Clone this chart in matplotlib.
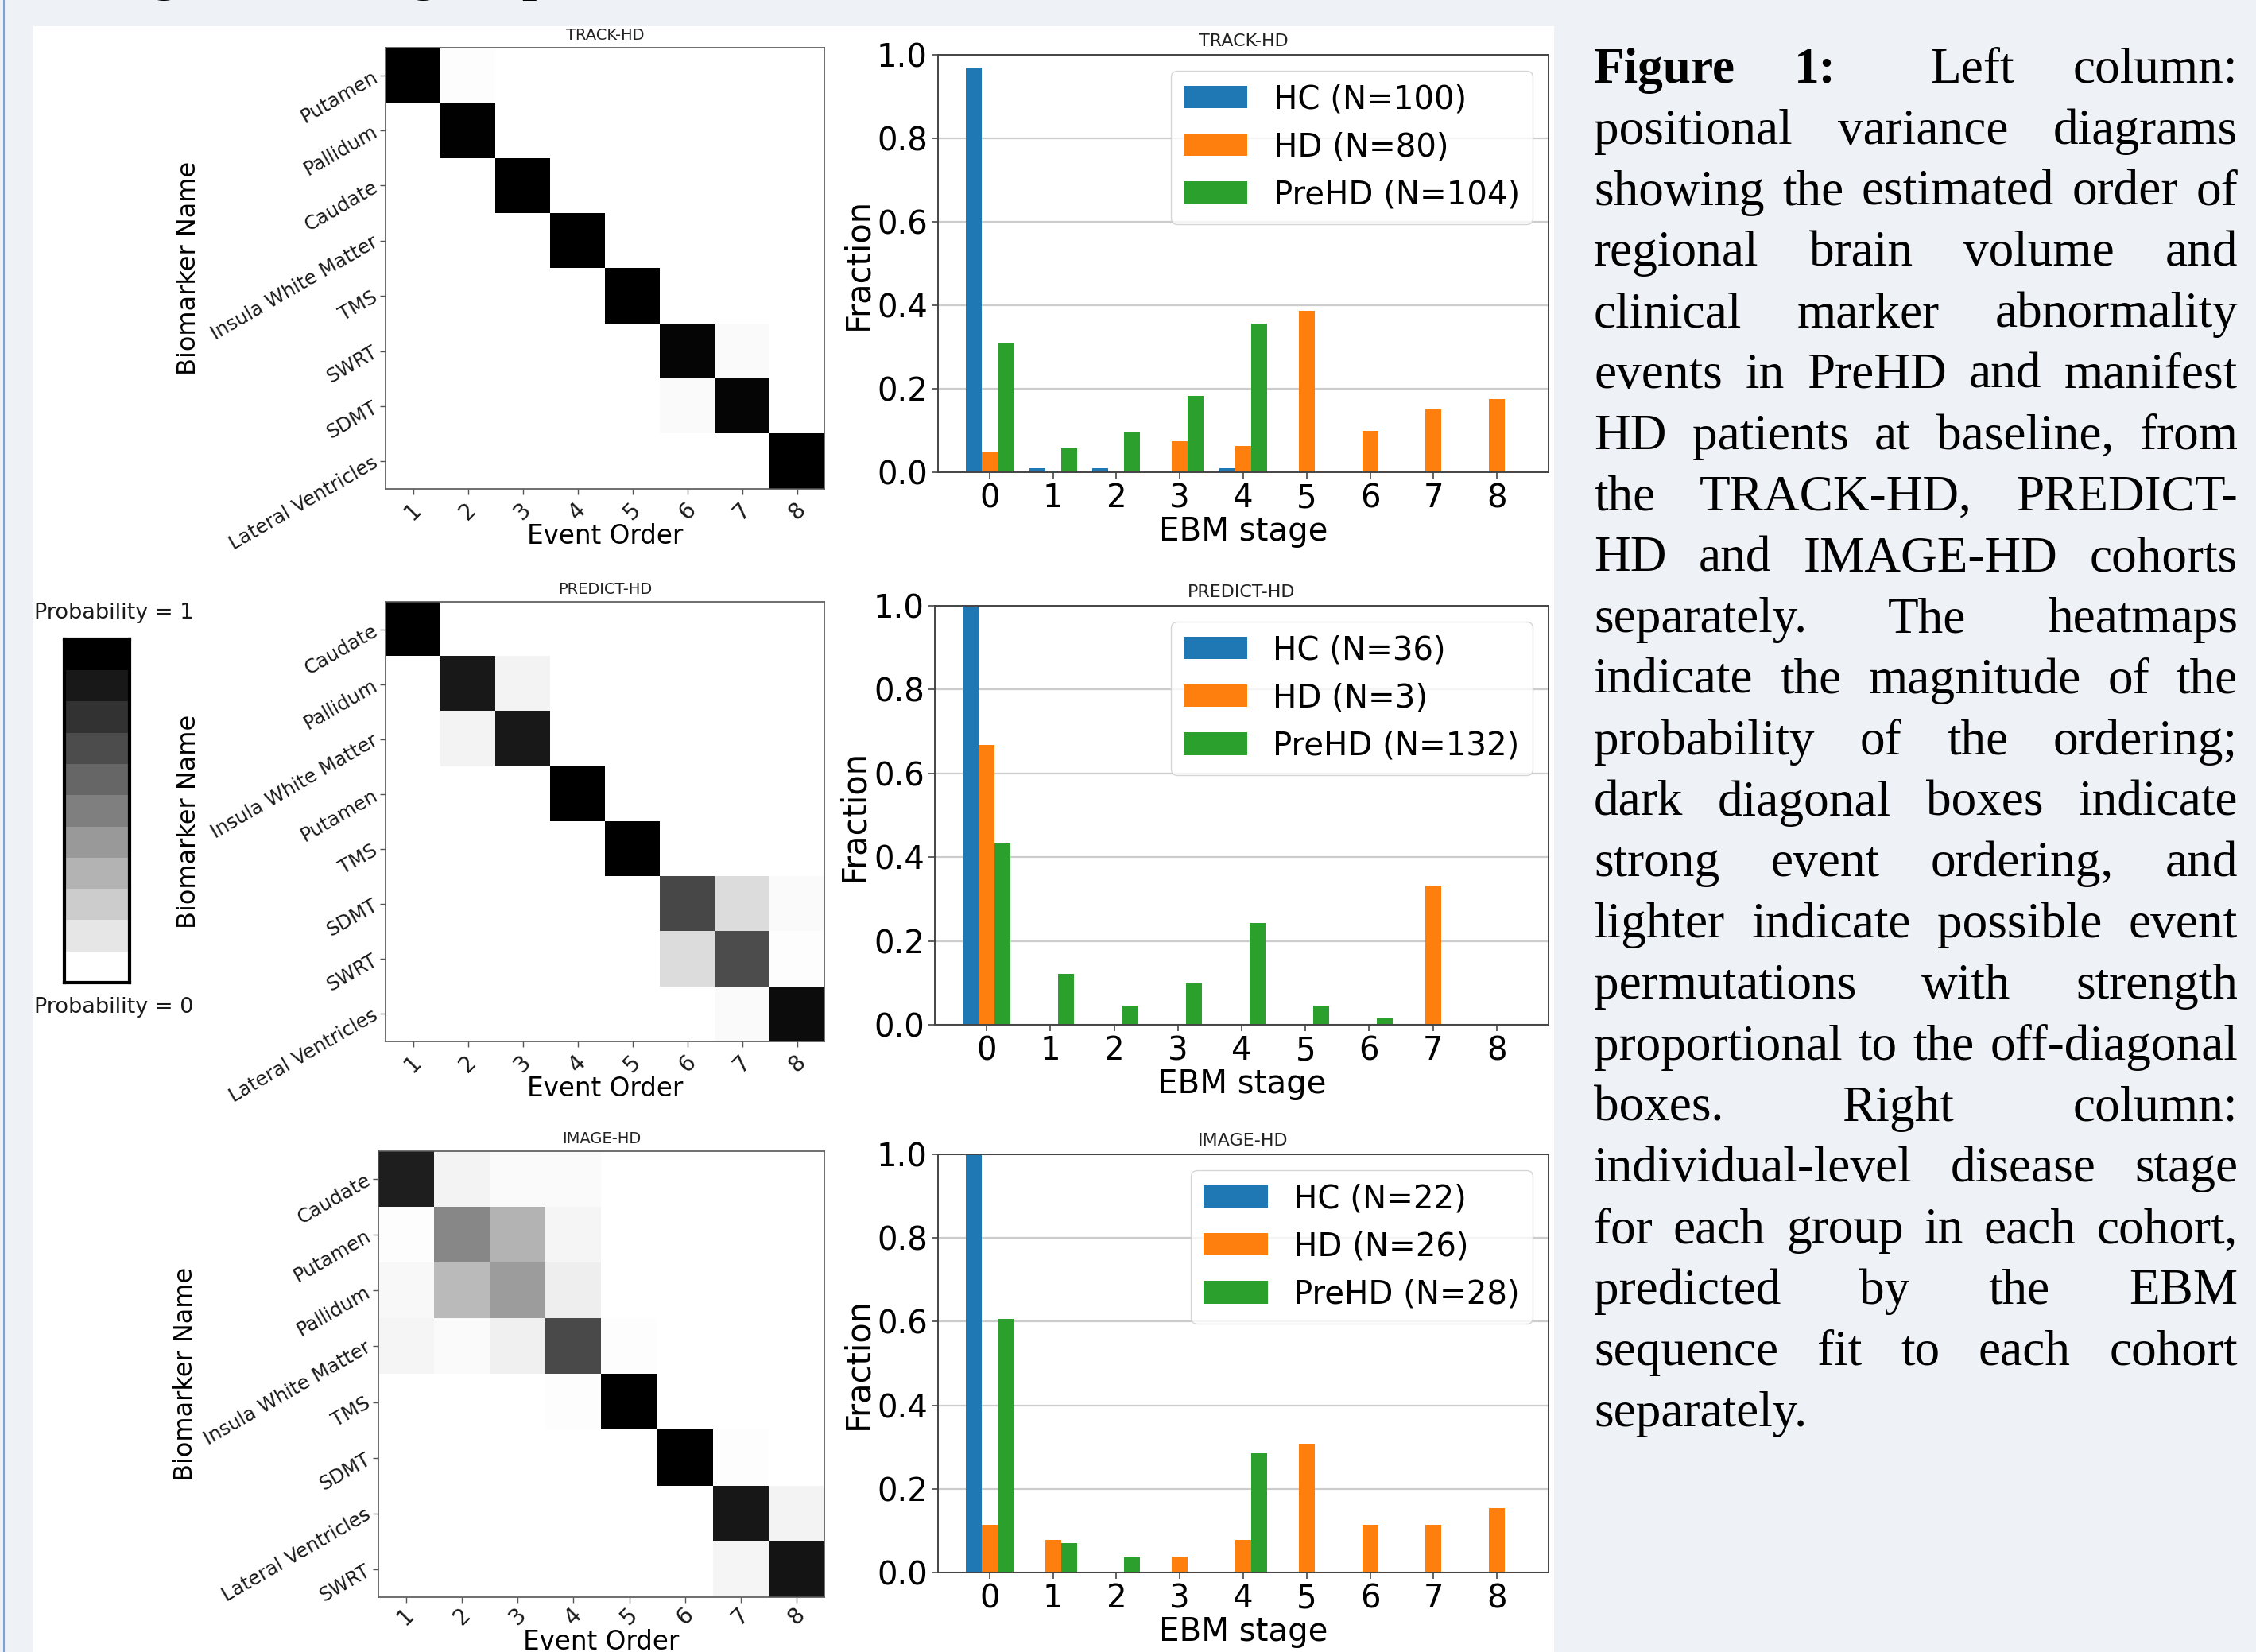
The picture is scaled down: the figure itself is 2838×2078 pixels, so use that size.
import numpy as np
import matplotlib
matplotlib.use('Agg')
import matplotlib.pyplot as plt
from matplotlib.patches import Rectangle
from matplotlib.lines import Line2D

W, H = 2838, 2078

# ---- data ----
cohorts = ['TRACK-HD', 'PREDICT-HD', 'IMAGE-HD']

track_markers = ['Putamen', 'Pallidum', 'Caudate', 'Insula White Matter',
                 'TMS', 'SWRT', 'SDMT', 'Lateral Ventricles']
predict_markers = ['Caudate', 'Pallidum', 'Insula White Matter', 'Putamen',
                   'TMS', 'SDMT', 'SWRT', 'Lateral Ventricles']
image_markers = ['Caudate', 'Putamen', 'Pallidum', 'Insula White Matter',
                 'TMS', 'SDMT', 'Lateral Ventricles', 'SWRT']

event_order = ['1', '2', '3', '4', '5', '6', '7', '8']

track_pv = [[1.00, 0.01, 0, 0, 0, 0, 0, 0],
            [0, 0.99, 0, 0, 0, 0, 0, 0],
            [0, 0, 1.00, 0, 0, 0, 0, 0],
            [0, 0, 0, 1.00, 0, 0, 0, 0],
            [0, 0, 0, 0, 1.00, 0, 0, 0],
            [0, 0, 0, 0, 0, 0.98, 0.02, 0],
            [0, 0, 0, 0, 0, 0.02, 0.98, 0],
            [0, 0, 0, 0, 0, 0, 0, 1.00]]

predict_pv = [[1.00, 0, 0, 0, 0, 0, 0, 0],
              [0, 0.90, 0.05, 0, 0, 0, 0, 0],
              [0, 0.05, 0.90, 0, 0, 0, 0, 0],
              [0, 0, 0, 1.00, 0, 0, 0, 0],
              [0, 0, 0, 0, 1.00, 0, 0, 0],
              [0, 0, 0, 0, 0, 0.72, 0.14, 0.02],
              [0, 0, 0, 0, 0, 0.14, 0.70, 0.01],
              [0, 0, 0, 0, 0, 0, 0.02, 0.95]]

image_pv = [[0.88, 0.05, 0.02, 0.02, 0, 0, 0, 0],
            [0.01, 0.47, 0.30, 0.04, 0, 0, 0, 0],
            [0.03, 0.27, 0.39, 0.07, 0, 0, 0, 0],
            [0.04, 0.02, 0.06, 0.71, 0.01, 0, 0, 0],
            [0, 0, 0, 0.01, 1.00, 0, 0, 0],
            [0, 0, 0, 0, 0, 1.00, 0.01, 0],
            [0, 0, 0, 0, 0, 0, 0.91, 0.05],
            [0, 0, 0, 0, 0, 0, 0.04, 0.92]]

stages = [0, 1, 2, 3, 4, 5, 6, 7, 8]

track_hc = [0.97, 0.01, 0.01, 0, 0.01, 0, 0, 0, 0]
track_hd = [0.05, 0, 0, 0.075, 0.0625, 0.3875, 0.10, 0.15, 0.175]
track_prehd = [0.308, 0.058, 0.096, 0.183, 0.356, 0, 0, 0, 0]

predict_hc = [1.0, 0, 0, 0, 0, 0, 0, 0, 0]
predict_hd = [0.667, 0, 0, 0, 0, 0, 0, 0.333, 0]
predict_prehd = [0.432, 0.121, 0.045, 0.098, 0.242, 0.045, 0.015, 0, 0]

image_hc = [1.0, 0, 0, 0, 0, 0, 0, 0, 0]
image_hd = [0.115, 0.077, 0, 0.038, 0.077, 0.308, 0.115, 0.115, 0.154]
image_prehd = [0.607, 0.071, 0.036, 0, 0.286, 0, 0, 0, 0]

track_n = [100, 80, 104]
predict_n = [36, 3, 132]
image_n = [22, 26, 28]

prob_levels = [1.0, 0.9, 0.8, 0.7, 0.6, 0.5, 0.4, 0.3, 0.2, 0.1, 0.0]

title_text = 'Using EBM to group HD cohorts'

caption_lines = [
    'Figure 1:  Left column:',
    'positional variance diagrams',
    'showing the estimated order of',
    'regional brain volume and',
    'clinical marker abnormality',
    'events in PreHD and manifest',
    'HD patients at baseline, from',
    'the TRACK-HD, PREDICT-',
    'HD and IMAGE-HD cohorts',
    'separately. The heatmaps',
    'indicate the magnitude of the',
    'probability of the ordering;',
    'dark diagonal boxes indicate',
    'strong event ordering, and',
    'lighter indicate possible event',
    'permutations with strength',
    'proportional to the off-diagonal',
    'boxes. Right column:',
    'individual-level disease stage',
    'for each group in each cohort,',
    'predicted by the EBM',
    'sequence fit to each cohort',
    'separately.',
]

# ---- layout helpers (pixel boxes -> figure fractions) ----
def box(left, top, right, bottom):
    return [left / W, 1 - bottom / H, (right - left) / W, (bottom - top) / H]


bg = '#eef1f6'
fig = plt.figure(figsize=(W / 100, H / 100), dpi=100, facecolor=bg)

fig.patches.append(Rectangle((42 / W, 0), (1955 - 42) / W, (H - 33) / H,
                             transform=fig.transFigure, fc='white', ec='none',
                             zorder=-5))
fig.lines.append(Line2D([5 / W, 5 / W], [0, 1], transform=fig.transFigure,
                        color='#7f9fd8', lw=1.5, zorder=-4))

# heading above the panel, mostly cut off by the top edge
fig.text(41 / W, 1 + 16 / H, title_text, fontsize=56,
         family='Liberation Serif', va='baseline', ha='left')


def pv_plot(ax, matrix, markers, title, label_x, label_y=-0.078, xpad=3.5):
    ax.imshow(np.array(matrix), cmap='gray_r', vmin=0, vmax=1,
              aspect='auto', interpolation='nearest')
    ax.set_xticks(range(len(event_order)))
    ax.set_xticklabels(event_order, rotation=45, fontsize=20, color='#1a1a1a')
    ax.set_yticks(range(len(markers)))
    ax.set_yticklabels(markers, rotation=30, ha='right', va='center',
                       rotation_mode='anchor', fontsize=17.5, color='#1a1a1a')
    ax.set_title(title, fontsize=14, pad=7, color='#222222')
    ax.set_xlabel('Event Order', fontsize=23.5)
    ax.set_ylabel('Biomarker Name', fontsize=23)
    ax.yaxis.set_label_coords(label_x, 0.5)
    ax.xaxis.set_label_coords(0.5, label_y)
    for s in ax.spines.values():
        s.set_color('#555555')
        s.set_linewidth(1.2)
    ax.tick_params(length=5, width=1, color='#555555')
    ax.tick_params(axis='x', pad=xpad)


def stage_plot(ax, hc, hd, prehd, ns, title):
    x = np.array(stages)
    ax.bar(x - 0.25, hc, 0.25, color='#1f77b4', label=f'HC (N={ns[0]})')
    ax.bar(x, hd, 0.25, color='#ff7f0e', label=f'HD (N={ns[1]})')
    ax.bar(x + 0.25, prehd, 0.25, color='#2ca02c', label=f'PreHD (N={ns[2]})')
    ax.set_ylim(0, 1)
    ax.set_xticks(x)
    ax.set_yticks([0, 0.2, 0.4, 0.6, 0.8, 1.0])
    ax.tick_params(labelsize=29, length=6, width=1.2, color='#444444')
    ax.grid(axis='y', color='#cccccc', lw=1.6)
    ax.set_axisbelow(True)
    ax.set_title(title, fontsize=16, pad=8, color='#222222')
    ax.set_xlabel('EBM stage', fontsize=29)
    ax.set_ylabel('Fraction', fontsize=30)
    ax.yaxis.set_label_coords(-0.104, 0.5)
    ax.xaxis.set_label_coords(0.5, -0.105)
    for s in ax.spines.values():
        s.set_color('#444444')
        s.set_linewidth(1.4)
    ax.legend(loc='upper right', fontsize=29, edgecolor='#cccccc')


ax_h1 = fig.add_axes(box(485, 60, 1037, 615))
ax_h2 = fig.add_axes(box(485, 757, 1037, 1310))
ax_h3 = fig.add_axes(box(476, 1448, 1037, 2009))

ax_b1 = fig.add_axes(box(1180, 69, 1948, 594))
ax_b2 = fig.add_axes(box(1176, 762, 1948, 1289))
ax_b3 = fig.add_axes(box(1180, 1452, 1948, 1978))

pv_plot(ax_h1, track_pv, track_markers, cohorts[0], -0.42)
pv_plot(ax_h2, predict_pv, predict_markers, cohorts[1], -0.42)
pv_plot(ax_h3, image_pv, image_markers, cohorts[2], -0.405,
        label_y=-0.072, xpad=1)

stage_plot(ax_b1, track_hc, track_hd, track_prehd, track_n, cohorts[0])
stage_plot(ax_b2, predict_hc, predict_hd, predict_prehd, predict_n, cohorts[1])
stage_plot(ax_b3, image_hc, image_hd, image_prehd, image_n, cohorts[2])

# probability scale bar
ax_cb = fig.add_axes(box(81, 804, 163, 1236))
ax_cb.imshow(np.array(prob_levels).reshape(-1, 1), cmap='gray_r', vmin=0,
             vmax=1, aspect='auto', interpolation='nearest')
ax_cb.set_xticks([])
ax_cb.set_yticks([])
for s in ax_cb.spines.values():
    s.set_linewidth(3)
    s.set_color('black')
fig.text(43 / W, 1 - 771 / H, 'Probability = 1', fontsize=19.5, va='center',
         color='#1a1a1a')
fig.text(43 / W, 1 - 1267 / H, 'Probability = 0', fontsize=19.5, va='center',
         color='#1a1a1a')

# justified caption on the right
cap_left, cap_right = 2005, 2815
cap_y0, cap_step = 104, 76.8
cap_size = 45.5

fig.canvas.draw()
renderer = fig.canvas.get_renderer()

for i, line in enumerate(caption_lines):
    y = 1 - (cap_y0 + i * cap_step) / H
    words = line.split()
    texts = []
    for j, w in enumerate(words):
        bold = (i == 0 and j < 2)
        t = fig.text(0, y, w, fontsize=cap_size, family='Liberation Serif',
                     weight='bold' if bold else 'normal', va='baseline',
                     ha='left')
        texts.append(t)
    widths = [t.get_window_extent(renderer).width for t in texts]
    if i == len(caption_lines) - 1 or len(words) == 1:
        gaps = [0.25 * cap_size * 100 / 72] * (len(words) - 1)
    else:
        n_gap = len(words) - 1
        weights = [1.0] * n_gap
        if i == 0:
            weights[1] = 1.6
        free = (cap_right - cap_left) - sum(widths)
        gaps = [free * w_ / sum(weights) for w_ in weights]
    x = cap_left
    for j, t in enumerate(texts):
        t.set_x(x / W)
        x += widths[j]
        if j < len(gaps):
            x += gaps[j]

fig.savefig('out.png', dpi=100, facecolor=bg)
